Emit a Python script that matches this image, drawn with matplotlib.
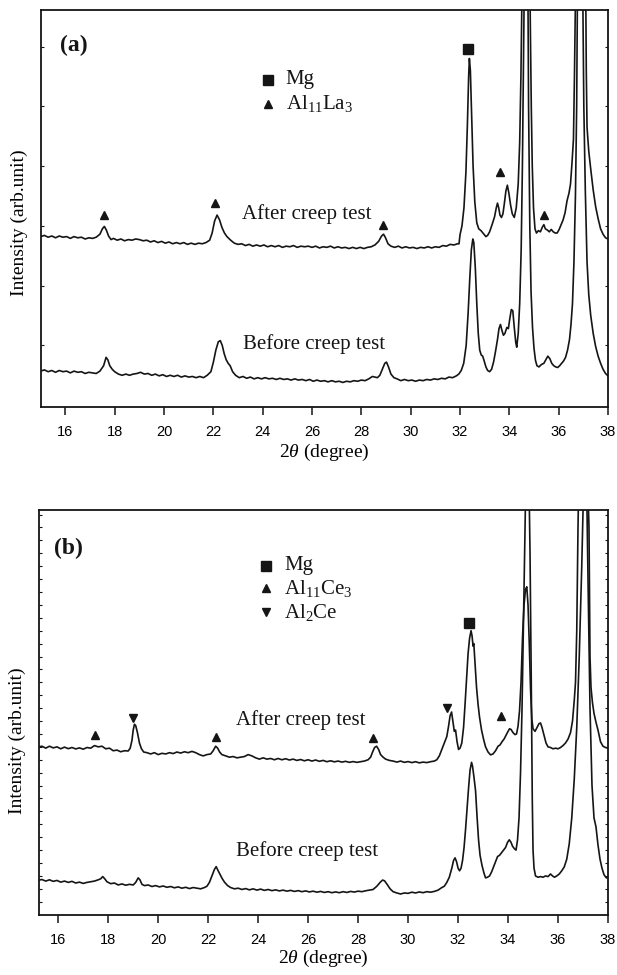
import numpy as np
import matplotlib
matplotlib.use("Agg")
import matplotlib.pyplot as plt

plt.rcParams['font.family'] = ['Liberation Serif', 'DejaVu Serif']
plt.rcParams['mathtext.fontset'] = 'custom'
plt.rcParams['mathtext.rm'] = 'Liberation Serif'
plt.rcParams['mathtext.it'] = 'Liberation Serif:italic'
plt.rcParams['mathtext.bf'] = 'Liberation Serif:bold'

# ---------------- Panel (a) data : 2theta (deg), intensity (arb.) ----------------
a_after = [
    (15.00, 2.82), (15.15, 2.84), (15.30, 2.81), (15.45, 2.83), (15.60, 2.80), (15.75, 2.83),
    (15.90, 2.81), (16.05, 2.82), (16.20, 2.79), (16.35, 2.82), (16.50, 2.80), (16.65, 2.81),
    (16.80, 2.78), (16.95, 2.80), (17.10, 2.79), (17.25, 2.81), (17.40, 2.86), (17.50, 2.95),
    (17.58, 2.99), (17.66, 2.93), (17.75, 2.83), (17.85, 2.77), (17.95, 2.79), (18.10, 2.76),
    (18.25, 2.78), (18.40, 2.75), (18.55, 2.77), (18.70, 2.76), (18.85, 2.78), (19.00, 2.77),
    (19.15, 2.75), (19.30, 2.76), (19.45, 2.73), (19.60, 2.75), (19.75, 2.72), (19.90, 2.74),
    (20.05, 2.71), (20.20, 2.73), (20.35, 2.70), (20.50, 2.72), (20.65, 2.70), (20.80, 2.72),
    (20.95, 2.69), (21.10, 2.71), (21.25, 2.69), (21.40, 2.71), (21.55, 2.70), (21.70, 2.72),
    (21.85, 2.76), (21.95, 2.88), (22.05, 3.08), (22.15, 3.18), (22.25, 3.10), (22.35, 2.97),
    (22.45, 2.88), (22.55, 2.82), (22.70, 2.76), (22.85, 2.71), (23.00, 2.69), (23.15, 2.70),
    (23.30, 2.67), (23.45, 2.69), (23.60, 2.66), (23.75, 2.68), (23.90, 2.66), (24.05, 2.68),
    (24.20, 2.65), (24.35, 2.67), (24.50, 2.65), (24.65, 2.67), (24.80, 2.64), (24.95, 2.66),
    (25.10, 2.65), (25.25, 2.67), (25.40, 2.64), (25.55, 2.66), (25.70, 2.65), (25.85, 2.66),
    (26.00, 2.64), (26.15, 2.66), (26.30, 2.63), (26.45, 2.65), (26.60, 2.64), (26.75, 2.66),
    (26.90, 2.63), (27.05, 2.65), (27.20, 2.63), (27.35, 2.64), (27.50, 2.62), (27.65, 2.64),
    (27.80, 2.62), (27.95, 2.64), (28.10, 2.62), (28.25, 2.64), (28.40, 2.65), (28.55, 2.68),
    (28.70, 2.74), (28.82, 2.83), (28.90, 2.86), (28.98, 2.80), (29.08, 2.70), (29.20, 2.66),
    (29.35, 2.64), (29.50, 2.66), (29.65, 2.63), (29.80, 2.65), (29.95, 2.63), (30.10, 2.64),
    (30.25, 2.62), (30.40, 2.64), (30.55, 2.63), (30.70, 2.65), (30.85, 2.63), (31.00, 2.65),
    (31.15, 2.64), (31.30, 2.67), (31.45, 2.66), (31.60, 2.69), (31.75, 2.68), (31.90, 2.70),
    (31.96, 2.70), (32.00, 2.85), (32.08, 3.00), (32.16, 3.30), (32.24, 3.90), (32.30, 4.70),
    (32.35, 5.50), (32.38, 5.80), (32.42, 5.60), (32.47, 4.90), (32.53, 4.00), (32.60, 3.40),
    (32.68, 3.05), (32.76, 2.95), (32.85, 2.92), (32.95, 2.87), (33.05, 2.82), (33.12, 2.84),
    (33.20, 2.90), (33.30, 3.02), (33.40, 3.15), (33.47, 3.30), (33.52, 3.38), (33.57, 3.30),
    (33.62, 3.18), (33.68, 3.14), (33.74, 3.20), (33.80, 3.38), (33.86, 3.58), (33.92, 3.68),
    (33.98, 3.55), (34.05, 3.35), (34.12, 3.20), (34.20, 3.14), (34.28, 3.30), (34.36, 3.70),
    (34.42, 4.40), (34.47, 5.50), (34.51, 6.80), (34.56, 9.00), (34.62, 13.0), (34.68, 15.0),
    (34.74, 12.0), (34.80, 8.50), (34.85, 6.40), (34.89, 5.00), (34.93, 4.00), (34.98, 3.30),
    (35.04, 2.95), (35.10, 2.88), (35.18, 2.92), (35.26, 2.90), (35.34, 2.98), (35.40, 3.02),
    (35.46, 2.95), (35.54, 2.93), (35.62, 2.90), (35.70, 2.94), (35.78, 2.90), (35.86, 2.88),
    (35.94, 2.88), (36.02, 2.94), (36.10, 3.02), (36.18, 3.10), (36.26, 3.22), (36.34, 3.42),
    (36.42, 3.55), (36.48, 3.70), (36.54, 4.05), (36.60, 4.45), (36.64, 5.50), (36.68, 6.80),
    (36.75, 9.50), (36.85, 13.0), (36.95, 14.0), (37.03, 11.0), (37.08, 8.00), (37.12, 5.60),
    (37.15, 4.65), (37.22, 4.25), (37.30, 3.95), (37.40, 3.60), (37.50, 3.32), (37.60, 3.12),
    (37.70, 2.95), (37.80, 2.86), (37.90, 2.80), (38.00, 2.78),
]

a_before = [
    (15.00, 0.57), (15.15, 0.59), (15.30, 0.56), (15.45, 0.58), (15.60, 0.55), (15.75, 0.58),
    (15.90, 0.56), (16.05, 0.57), (16.20, 0.54), (16.35, 0.57), (16.50, 0.55), (16.65, 0.56),
    (16.80, 0.53), (16.95, 0.55), (17.10, 0.54), (17.25, 0.53), (17.40, 0.57), (17.55, 0.66),
    (17.65, 0.80), (17.72, 0.76), (17.80, 0.66), (17.90, 0.60), (18.00, 0.56), (18.15, 0.52),
    (18.30, 0.50), (18.45, 0.52), (18.60, 0.50), (18.75, 0.52), (18.90, 0.53), (19.05, 0.55),
    (19.20, 0.52), (19.35, 0.53), (19.50, 0.50), (19.65, 0.52), (19.80, 0.49), (19.95, 0.51),
    (20.10, 0.48), (20.25, 0.50), (20.40, 0.48), (20.55, 0.50), (20.70, 0.47), (20.85, 0.49),
    (21.00, 0.47), (21.15, 0.48), (21.30, 0.46), (21.45, 0.48), (21.60, 0.46), (21.75, 0.50),
    (21.90, 0.56), (22.00, 0.72), (22.10, 0.92), (22.20, 1.06), (22.28, 1.08), (22.36, 1.00),
    (22.44, 0.86), (22.52, 0.76), (22.60, 0.70), (22.68, 0.66), (22.78, 0.56), (22.90, 0.50),
    (23.05, 0.46), (23.20, 0.48), (23.35, 0.45), (23.50, 0.47), (23.65, 0.44), (23.80, 0.46),
    (23.95, 0.44), (24.10, 0.46), (24.25, 0.44), (24.40, 0.45), (24.55, 0.43), (24.70, 0.45),
    (24.85, 0.43), (25.00, 0.44), (25.15, 0.42), (25.30, 0.44), (25.45, 0.42), (25.60, 0.43),
    (25.75, 0.41), (25.90, 0.43), (26.05, 0.40), (26.20, 0.42), (26.35, 0.40), (26.50, 0.41),
    (26.65, 0.39), (26.80, 0.41), (26.95, 0.39), (27.10, 0.40), (27.25, 0.38), (27.40, 0.40),
    (27.55, 0.39), (27.70, 0.41), (27.85, 0.40), (28.00, 0.42), (28.15, 0.41), (28.30, 0.44),
    (28.45, 0.48), (28.55, 0.47), (28.65, 0.46), (28.75, 0.50), (28.85, 0.60), (28.95, 0.70),
    (29.02, 0.72), (29.10, 0.64), (29.20, 0.52), (29.32, 0.46), (29.45, 0.44), (29.60, 0.41),
    (29.75, 0.43), (29.90, 0.41), (30.05, 0.42), (30.20, 0.40), (30.35, 0.42), (30.50, 0.41),
    (30.65, 0.43), (30.80, 0.42), (30.95, 0.44), (31.10, 0.43), (31.25, 0.45), (31.40, 0.44),
    (31.55, 0.47), (31.70, 0.46), (31.85, 0.49), (31.95, 0.52), (32.05, 0.58), (32.15, 0.70),
    (32.25, 1.00), (32.33, 1.55), (32.40, 2.15), (32.46, 2.60), (32.52, 2.78), (32.56, 2.72),
    (32.62, 2.30), (32.68, 1.70), (32.74, 1.20), (32.80, 0.92), (32.86, 0.84), (32.92, 0.82),
    (32.98, 0.74), (33.05, 0.64), (33.12, 0.58), (33.20, 0.56), (33.28, 0.60), (33.36, 0.72),
    (33.44, 0.90), (33.52, 1.10), (33.58, 1.28), (33.64, 1.35), (33.70, 1.25), (33.76, 1.17),
    (33.82, 1.20), (33.90, 1.30), (33.96, 1.28), (34.02, 1.45), (34.08, 1.60), (34.14, 1.58),
    (34.20, 1.30), (34.26, 1.05), (34.30, 0.97), (34.36, 1.20), (34.42, 1.70), (34.48, 2.60),
    (34.53, 4.00), (34.57, 5.60), (34.60, 6.80), (34.65, 11.0), (34.70, 13.0), (34.74, 8.00),
    (34.78, 5.00), (34.83, 3.00), (34.88, 1.90), (34.94, 1.30), (35.00, 0.95), (35.06, 0.75),
    (35.12, 0.66), (35.20, 0.64), (35.30, 0.68), (35.40, 0.70), (35.48, 0.76), (35.56, 0.82),
    (35.64, 0.78), (35.72, 0.70), (35.80, 0.66), (35.88, 0.64), (35.96, 0.63), (36.04, 0.66),
    (36.12, 0.70), (36.20, 0.74), (36.28, 0.80), (36.36, 0.92), (36.44, 1.10), (36.50, 1.35),
    (36.56, 1.70), (36.62, 2.40), (36.68, 3.50), (36.73, 5.00), (36.76, 6.80), (36.82, 11.0),
    (36.88, 14.0), (36.94, 10.0), (36.98, 6.80), (37.02, 5.00), (37.08, 3.60), (37.15, 2.40),
    (37.22, 1.85), (37.30, 1.50), (37.40, 1.20), (37.50, 0.98), (37.60, 0.82), (37.70, 0.70),
    (37.80, 0.60), (37.90, 0.53), (38.00, 0.49),
]

# ---------------- Panel (b) data ----------------
b_after = [
    (15.23, 13.00), (15.35, 13.05), (15.50, 12.90), (15.65, 13.05), (15.80, 12.92), (15.95, 13.00),
    (16.10, 12.85), (16.25, 12.98), (16.40, 12.86), (16.55, 12.95), (16.70, 12.84), (16.85, 12.92),
    (17.00, 12.82), (17.15, 12.95), (17.30, 12.90), (17.45, 13.10), (17.60, 13.00), (17.75, 13.05),
    (17.90, 12.85), (18.05, 12.90), (18.20, 12.70), (18.35, 12.75), (18.50, 12.62), (18.65, 12.70),
    (18.80, 12.68), (18.88, 12.90), (18.95, 13.50), (19.00, 14.30), (19.05, 14.75), (19.10, 14.65),
    (19.17, 14.10), (19.25, 13.30), (19.33, 12.85), (19.42, 12.60), (19.55, 12.55), (19.70, 12.45),
    (19.85, 12.55), (20.00, 12.40), (20.15, 12.50), (20.30, 12.45), (20.45, 12.55), (20.60, 12.48),
    (20.75, 12.60), (20.90, 12.52), (21.05, 12.62), (21.20, 12.55), (21.35, 12.65), (21.50, 12.55),
    (21.65, 12.40), (21.80, 12.30), (21.95, 12.40), (22.10, 12.45), (22.20, 12.70), (22.30, 13.05),
    (22.38, 12.90), (22.46, 12.60), (22.55, 12.40), (22.70, 12.30), (22.85, 12.20), (23.00, 12.25),
    (23.15, 12.15), (23.30, 12.20), (23.45, 12.25), (23.60, 12.40), (23.75, 12.30), (23.90, 12.15),
    (24.05, 12.05), (24.20, 12.15), (24.35, 12.05), (24.50, 12.10), (24.65, 12.00), (24.80, 12.10),
    (24.95, 12.00), (25.10, 12.08), (25.25, 11.98), (25.40, 12.05), (25.55, 11.95), (25.70, 12.02),
    (25.85, 11.92), (26.00, 12.00), (26.15, 11.90), (26.30, 11.98), (26.45, 11.88), (26.60, 11.95),
    (26.75, 11.85), (26.90, 11.92), (27.05, 11.84), (27.20, 11.90), (27.35, 11.82), (27.50, 11.88),
    (27.65, 11.80), (27.80, 11.86), (27.95, 11.80), (28.10, 11.85), (28.25, 11.90), (28.40, 12.00),
    (28.50, 12.20), (28.58, 12.60), (28.66, 12.95), (28.74, 13.05), (28.82, 12.80), (28.90, 12.40),
    (29.00, 12.20), (29.10, 12.05), (29.25, 11.95), (29.40, 11.90), (29.55, 11.82), (29.70, 11.90),
    (29.85, 11.80), (30.00, 11.86), (30.15, 11.78), (30.30, 11.85), (30.45, 11.76), (30.60, 11.82),
    (30.75, 11.78), (30.90, 11.85), (31.05, 11.90), (31.15, 12.00), (31.25, 12.30), (31.35, 12.80),
    (31.45, 13.30), (31.55, 13.80), (31.62, 14.60), (31.68, 15.40), (31.74, 15.70), (31.80, 14.90),
    (31.85, 14.20), (31.90, 14.30), (31.96, 13.40), (32.02, 12.80), (32.08, 12.90), (32.15, 13.30),
    (32.22, 14.50), (32.28, 16.30), (32.34, 18.30), (32.40, 20.20), (32.46, 21.40), (32.52, 22.00),
    (32.56, 21.60), (32.60, 20.80), (32.63, 21.00), (32.68, 19.50), (32.74, 17.60), (32.80, 16.30),
    (32.86, 15.30), (32.94, 14.30), (33.02, 13.60), (33.10, 13.00), (33.20, 12.60), (33.30, 12.38),
    (33.40, 12.45), (33.50, 12.70), (33.60, 13.05), (33.68, 13.15), (33.76, 13.40), (33.84, 13.60),
    (33.92, 13.90), (34.00, 14.20), (34.06, 14.40), (34.12, 14.35), (34.20, 14.10), (34.28, 13.95),
    (34.34, 14.00), (34.40, 14.60), (34.46, 15.80), (34.52, 18.00), (34.58, 21.50), (34.64, 24.00),
    (34.70, 25.20), (34.75, 25.40), (34.80, 24.00), (34.85, 21.00), (34.90, 17.50), (34.95, 15.20),
    (35.00, 14.40), (35.08, 14.20), (35.16, 14.50), (35.24, 14.80), (35.30, 14.85), (35.36, 14.50),
    (35.44, 13.90), (35.52, 13.30), (35.60, 13.00), (35.70, 12.95), (35.80, 12.85), (35.90, 12.90),
    (36.00, 12.85), (36.10, 12.95), (36.20, 13.10), (36.30, 13.30), (36.40, 13.60), (36.50, 14.10),
    (36.58, 15.00), (36.65, 16.60), (36.70, 18.00), (36.75, 22.00), (36.80, 30.00), (36.85, 36.00),
    (37.00, 40.00), (37.15, 36.00), (37.24, 30.00), (37.28, 20.00), (37.32, 17.60), (37.38, 16.40),
    (37.44, 15.60), (37.52, 14.90), (37.60, 14.30), (37.70, 13.40), (37.80, 13.05), (37.90, 12.95),
    (38.00, 12.90),
]

b_before = [
    (15.23, 2.68), (15.35, 2.72), (15.50, 2.60), (15.65, 2.70), (15.80, 2.58), (15.95, 2.65),
    (16.10, 2.52), (16.25, 2.60), (16.40, 2.50), (16.55, 2.58), (16.70, 2.45), (16.85, 2.52),
    (17.00, 2.42), (17.15, 2.50), (17.30, 2.55), (17.45, 2.60), (17.60, 2.70), (17.70, 2.78),
    (17.78, 2.95), (17.86, 2.78), (17.95, 2.55), (18.10, 2.40), (18.25, 2.45), (18.40, 2.30),
    (18.55, 2.38), (18.70, 2.28), (18.85, 2.35), (19.00, 2.30), (19.10, 2.50), (19.20, 2.85),
    (19.27, 2.70), (19.35, 2.35), (19.45, 2.25), (19.60, 2.30), (19.75, 2.18), (19.90, 2.25),
    (20.05, 2.15), (20.20, 2.22), (20.35, 2.12), (20.50, 2.18), (20.65, 2.08), (20.80, 2.15),
    (20.95, 2.05), (21.10, 2.12), (21.25, 2.02), (21.40, 2.10), (21.55, 2.05), (21.70, 2.00),
    (21.85, 2.10), (21.95, 2.20), (22.05, 2.50), (22.15, 3.00), (22.25, 3.50), (22.32, 3.72),
    (22.40, 3.40), (22.48, 3.10), (22.56, 2.80), (22.66, 2.50), (22.78, 2.25), (22.90, 2.10),
    (23.05, 2.00), (23.20, 2.05), (23.35, 1.95), (23.50, 2.02), (23.65, 1.92), (23.80, 2.00),
    (23.95, 1.90), (24.10, 1.98), (24.25, 1.88), (24.40, 1.95), (24.55, 1.86), (24.70, 1.92),
    (24.85, 1.84), (25.00, 1.90), (25.15, 1.82), (25.30, 1.88), (25.45, 1.80), (25.60, 1.86),
    (25.75, 1.78), (25.90, 1.84), (26.05, 1.76), (26.20, 1.82), (26.35, 1.74), (26.50, 1.80),
    (26.65, 1.72), (26.80, 1.78), (26.95, 1.70), (27.10, 1.76), (27.25, 1.70), (27.40, 1.78),
    (27.55, 1.72), (27.70, 1.80), (27.85, 1.75), (28.00, 1.82), (28.15, 1.78), (28.30, 1.85),
    (28.45, 1.90), (28.60, 1.95), (28.75, 2.20), (28.88, 2.50), (28.98, 2.68), (29.06, 2.62),
    (29.16, 2.35), (29.28, 2.00), (29.40, 1.78), (29.55, 1.68), (29.70, 1.60), (29.85, 1.68),
    (30.00, 1.65), (30.15, 1.74), (30.30, 1.68), (30.45, 1.76), (30.60, 1.70), (30.75, 1.78),
    (30.90, 1.74), (31.05, 1.80), (31.20, 1.90), (31.35, 2.10), (31.45, 2.20), (31.55, 2.50),
    (31.65, 2.90), (31.75, 3.60), (31.82, 4.20), (31.88, 4.40), (31.94, 4.10), (32.00, 3.60),
    (32.06, 3.40), (32.12, 3.60), (32.18, 4.20), (32.24, 5.20), (32.30, 6.60), (32.36, 8.20),
    (32.42, 9.80), (32.48, 11.20), (32.54, 11.80), (32.58, 11.50), (32.64, 10.60), (32.70, 9.60),
    (32.76, 7.60), (32.82, 5.80), (32.88, 4.60), (32.96, 3.80), (33.04, 3.20), (33.10, 2.85),
    (33.18, 2.90), (33.26, 3.00), (33.34, 3.30), (33.42, 3.70), (33.50, 4.10), (33.58, 4.50),
    (33.66, 4.60), (33.74, 4.80), (33.82, 5.00), (33.90, 5.20), (33.98, 5.60), (34.05, 5.80),
    (34.12, 5.60), (34.18, 5.30), (34.26, 5.10), (34.32, 5.00), (34.38, 5.80), (34.44, 7.50),
    (34.50, 11.00), (34.56, 16.00), (34.62, 23.00), (34.68, 30.00), (34.75, 38.00), (34.82, 36.00),
    (34.88, 28.00), (34.93, 18.00), (34.97, 9.00), (35.00, 5.00), (35.04, 3.60), (35.10, 3.00),
    (35.20, 2.90), (35.30, 2.95), (35.40, 2.90), (35.50, 3.00), (35.60, 2.95), (35.70, 3.15),
    (35.78, 3.00), (35.86, 2.90), (35.95, 3.00), (36.05, 3.15), (36.15, 3.40), (36.25, 3.70),
    (36.35, 4.30), (36.45, 5.50), (36.55, 7.50), (36.65, 10.50), (36.75, 14.50), (36.85, 20.00),
    (36.95, 27.00), (37.02, 33.00), (37.08, 38.00), (37.14, 34.00), (37.20, 26.00), (37.28, 16.00),
    (37.36, 10.00), (37.44, 7.50), (37.52, 6.80), (37.60, 5.40), (37.68, 4.30), (37.76, 3.60),
    (37.84, 3.10), (37.92, 2.88), (38.00, 2.80),
]

# ---------------- phase markers ----------------
a_mg_mark = [(32.33, 5.96)]
a_al11la3_mark = [(17.56, 3.18), (22.08, 3.38), (28.86, 3.01), (33.64, 3.90), (35.40, 3.18)]

b_mg_mark = [(32.42, 22.6)]
b_al11ce3_mark = [(17.48, 13.9), (22.33, 13.8), (28.60, 13.7), (33.71, 15.37)]
b_al2ce_mark = [(18.98, 15.26), (31.57, 16.0)]

# legend entries (label, marker, y position)
a_legend = [("Mg", "s", 5.44), (r"Al$_{11}$La$_{3}$", "^", 5.04)]
b_legend = [("Mg", "s", 27.04), (r"Al$_{11}$Ce$_{3}$", "^", 25.28), (r"Al$_{2}$Ce", "v", 23.43)]

xticks = [16, 18, 20, 22, 24, 26, 28, 30, 32, 34, 36, 38]

LC = '#151515'
FS = 15

fig = plt.figure(figsize=(6.17, 9.75), dpi=100)
ax1 = fig.add_axes([0.066, 0.5826, 0.9194, 0.4071])
ax2 = fig.add_axes([0.0632, 0.0615, 0.9222, 0.4154])


def style_axes(ax, xlim, ylim, yticks, label_y):
    ax.set_xlim(*xlim)
    ax.set_ylim(*ylim)
    ax.set_xticks(xticks)
    ax.set_xticklabels([str(t) for t in xticks], family='Liberation Sans', fontsize=10.5)
    ax.set_yticks(yticks)
    ax.set_yticklabels([])
    ax.tick_params(axis='x', which='major', direction='out', length=5.5, width=1.1,
                   pad=7.5, top=False, color=LC)
    ax.tick_params(axis='y', which='major', direction='in', length=2.5, width=0.8,
                   left=True, right=True, color=LC)
    for s in ax.spines.values():
        s.set_linewidth(1.3)
        s.set_color(LC)
    ax.set_xlabel(r'2$\theta$ (degree)', fontsize=14)
    ax.set_ylabel('Intensity (arb.unit)', fontsize=14)
    ax.yaxis.set_label_coords(-0.023, label_y)


def draw(ax, curves, marks, legend, leg_x, txt):
    for c in curves:
        x, y = np.array(c).T
        ax.plot(x, y, color=LC, lw=1.2)
    for pts, m, ms in marks:
        x, y = np.array(pts).T
        ax.plot(x, y, ls='none', marker=m, ms=ms, color=LC, mec=LC)
    for lab, m, yy in legend:
        ax.plot([leg_x], [yy], ls='none', marker=m, ms=6.5 if m == 's' else 6, color=LC)
        ax.text(leg_x + 0.72, yy, lab, fontsize=FS, va='center', ha='left', color=LC)
    for (tx, ty, s, fs, wt) in txt:
        ax.text(tx, ty, s, fontsize=fs, fontweight=wt, va='center', ha='left', color=LC)


style_axes(ax1, (15, 38), (-0.03, 6.61), [1, 2, 3, 4, 5, 6], 0.465)
draw(ax1, [a_after, a_before],
     [(a_mg_mark, 's', 7), (a_al11la3_mark, '^', 6)],
     a_legend, 24.21,
     [(15.78, 6.02, '(a)', 17, 'bold'),
      (23.17, 3.19, 'After creep test', FS, 'normal'),
      (23.20, 1.03, 'Before creep test', FS, 'normal')])
ax1.xaxis.set_label_coords(0.5, -0.088)

style_axes(ax2, (15.23, 38), (-0.03, 31.35), list(range(1, 32)), 0.43)
draw(ax2, [b_after, b_before],
     [(b_mg_mark, 's', 7), (b_al11ce3_mark, '^', 6), (b_al2ce_mark, 'v', 6)],
     b_legend, 24.33,
     [(15.83, 28.4, '(b)', 17, 'bold'),
      (23.12, 15.1, 'After creep test', FS, 'normal'),
      (23.12, 4.95, 'Before creep test', FS, 'normal')])
ax2.xaxis.set_label_coords(0.5, -0.08)

fig.savefig('out.png', dpi=100, facecolor='white')
